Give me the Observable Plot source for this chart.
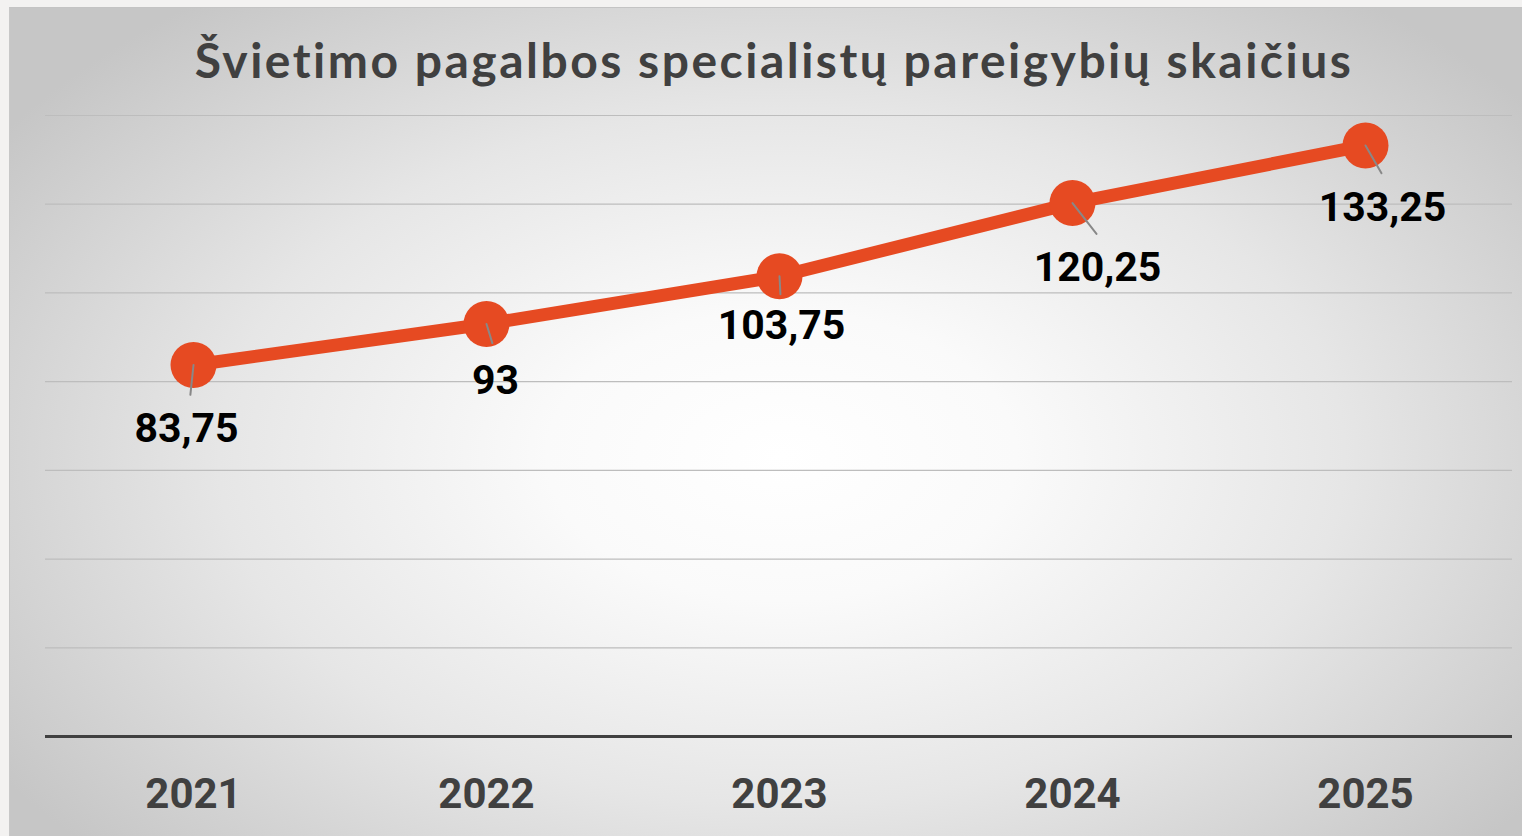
<!DOCTYPE html>
<html>
<head>
<meta charset="utf-8">
<script src="https://cdn.jsdelivr.net/npm/d3@7"></script>
<script src="https://cdn.jsdelivr.net/npm/@observablehq/plot@0.6"></script>
<style>
  html, body { margin: 0; padding: 0; width: 1522px; height: 836px; overflow: hidden; background: #f3f2f1; }
  #frame {
    position: absolute; left: 9px; top: 7px; width: 1513px; height: 829px;
    border-top: 1.5px solid #c4c4c4; border-left: 1px solid #c8c8c8;
    background: radial-gradient(ellipse 62% 70% at 51% 54%, #ffffff 0%, #fafafa 25%, #e6e6e6 60%, #d2d2d2 85%, #c6c6c6 100%);
  }
  #title {
    position: absolute; left: 0; top: 0; width: 1522px; height: 90px;
    text-align: center; font-family: "Lato", "Open Sans", sans-serif; font-weight: 700;
    font-size: 48px; line-height: 120px; color: #404040; letter-spacing: 2.5px;
    padding-left: 26px; box-sizing: border-box;
  }
  #chart { position: absolute; left: 0; top: 90px; }
</style>
</head>
<body>
<div id="frame"></div>
<div id="title">Švietimo pagalbos specialistų pareigybių skaičius</div>
<div id="chart"></div>
<script>
// ---- data ----
const years = ["2021", "2022", "2023", "2024", "2025"];
const values = [83.75, 93, 103.75, 120.25, 133.25];
const gridTicks = [20, 40, 60, 80, 100, 120, 140];

// ---- layout tweaks for the data labels (pixel offsets from each point) ----
const labelDx = [-7, 9, 2, 25, 17];
const labelDy = [64, 57, 50, 65, 62];
const leaderLen = [30, 20, 18, 39, 32];
const leaderAngle = [186, 163, 177, 142, 150];

const data = years.map((y, i) => ({
  year: y, value: values[i],
  label: String(values[i]).replace(".", ","),
  len: leaderLen[i], angle: leaderAngle[i]
}));

const orange = "#e64a22";

const labelMarks = data.map((d, i) =>
  Plot.text([d], {
    x: "year", y: "value", text: "label",
    dx: labelDx[i], dy: labelDy[i],
    fontSize: 41, fontWeight: 700, fill: "#000",
    fontFamily: "Roboto, sans-serif"
  })
);

const line = {
  draw(context, l) { context.moveTo(0, 0); context.lineTo(0, -l); }
};

const chart = Plot.plot({
  width: 1522,
  height: 746,
  marginLeft: 45,
  marginRight: 10,
  marginTop: 25,
  marginBottom: 100,
  style: { background: "transparent", overflow: "visible" },
  x: { type: "point", domain: years, padding: 0.5, label: null },
  y: { domain: [0, 140], axis: null },
  length: { type: "identity" },
  marks: [
    Plot.ruleY(gridTicks, { stroke: "#bdbdbd", strokeWidth: 1.2 }),
    Plot.ruleY([0], { stroke: "#404040", strokeWidth: 3 }),
    Plot.axisX({
      tickSize: 0, tickPadding: 42, fontSize: 42, fontWeight: 700,
      fill: "#404040", fontFamily: "Roboto, sans-serif", label: null
    }),
    Plot.line(data, { x: "year", y: "value", stroke: orange, strokeWidth: 13 }),
    Plot.dot(data, { x: "year", y: "value", r: 23, fill: orange, stroke: "none" }),
    Plot.vector(data, {
      x: "year", y: "value", length: "len", rotate: "angle", anchor: "start",
      shape: line, stroke: "#888888", strokeWidth: 2
    }),
    ...labelMarks
  ]
});
chart.style.fontFamily = "Roboto, sans-serif";
document.getElementById("chart").appendChild(chart);
</script>
</body>
</html>
